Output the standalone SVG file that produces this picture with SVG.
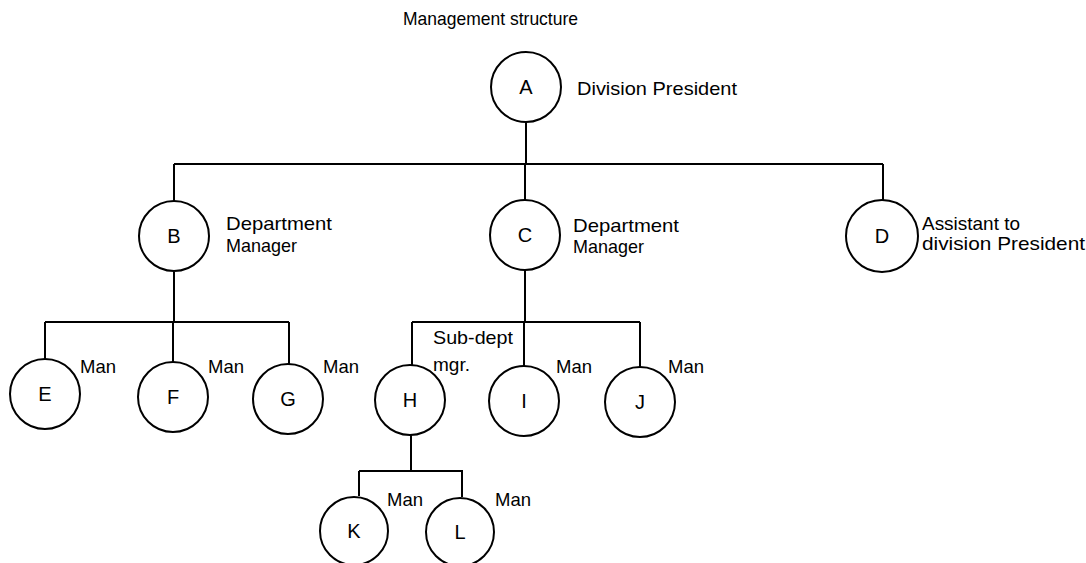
<svg xmlns="http://www.w3.org/2000/svg" width="1086" height="563" viewBox="0 0 1086 563">
  <style>
    .node circle { fill: #fff; stroke: #000; stroke-width: 2; }
    .id { font-family: "Liberation Sans", Arial, sans-serif; font-size: 20px; text-anchor: middle; fill: #000; }
    .lbl { font-family: "Liberation Sans", Arial, sans-serif; font-size: 19px; fill: #000; }
    #connectors path { fill: none; stroke: #000; stroke-width: 2; }
  </style>
  <rect width="1086" height="563" fill="#fff"/>

  <text class="lbl" x="403" y="25" textLength="175" lengthAdjust="spacingAndGlyphs">Management structure</text>

  <g id="connectors">
    <!-- A to first level -->
    <path d="M526 122 V164 M174 164 H883 M174 164 V202 M525 164 V200 M883 164 V200"/>
    <!-- B to E, F, G -->
    <path d="M174 272 V322 M45 322 H289 M45 322 V359 M173 322 V362 M289 322 V364"/>
    <!-- C to H, I, J -->
    <path d="M525 270 V322 M412 322 H640 M412 322 V366 M524 322 V366 M640 322 V367"/>
    <!-- H to K, L -->
    <path d="M411 435 V471 M359 471 H463 M359 471 V496 M462 471 V497"/>
  </g>

  <g id="node-A" class="node">
    <circle cx="526" cy="87" r="35"/>
    <text class="id" x="526" y="94">A</text>
    <text class="lbl" x="577" y="95" textLength="160" lengthAdjust="spacingAndGlyphs">Division President</text>
  </g>
  <g id="node-B" class="node">
    <circle cx="174" cy="236" r="35"/>
    <text class="id" x="174" y="243">B</text>
    <text class="lbl" x="226" y="230" textLength="106" lengthAdjust="spacingAndGlyphs">Department</text>
    <text class="lbl" x="226" y="252" textLength="71" lengthAdjust="spacingAndGlyphs">Manager</text>
  </g>
  <g id="node-C" class="node">
    <circle cx="525" cy="235" r="35"/>
    <text class="id" x="525" y="242">C</text>
    <text class="lbl" x="573" y="232" textLength="106" lengthAdjust="spacingAndGlyphs">Department</text>
    <text class="lbl" x="573" y="253" textLength="71" lengthAdjust="spacingAndGlyphs">Manager</text>
  </g>
  <g id="node-D" class="node">
    <circle cx="882" cy="236" r="36"/>
    <text class="id" x="882" y="243">D</text>
    <text class="lbl" x="922" y="230" textLength="98" lengthAdjust="spacingAndGlyphs">Assistant to</text>
    <text class="lbl" x="922" y="250" textLength="163" lengthAdjust="spacingAndGlyphs">division President</text>
  </g>
  <g id="node-E" class="node">
    <circle cx="45" cy="394" r="35"/>
    <text class="id" x="45" y="401">E</text>
    <text class="lbl" x="80" y="373" textLength="36" lengthAdjust="spacingAndGlyphs">Man</text>
  </g>
  <g id="node-F" class="node">
    <circle cx="173" cy="397" r="35"/>
    <text class="id" x="173" y="404">F</text>
    <text class="lbl" x="208" y="373" textLength="36" lengthAdjust="spacingAndGlyphs">Man</text>
  </g>
  <g id="node-G" class="node">
    <circle cx="288" cy="399" r="35"/>
    <text class="id" x="288" y="406">G</text>
    <text class="lbl" x="323" y="373" textLength="36" lengthAdjust="spacingAndGlyphs">Man</text>
  </g>
  <g id="node-H" class="node">
    <circle cx="410" cy="400" r="35"/>
    <text class="id" x="410" y="407">H</text>
    <text class="lbl" x="433" y="344" textLength="80" lengthAdjust="spacingAndGlyphs">Sub-dept</text>
    <text class="lbl" x="433" y="371" textLength="37" lengthAdjust="spacingAndGlyphs">mgr.</text>
  </g>
  <g id="node-I" class="node">
    <circle cx="524" cy="401" r="35"/>
    <text class="id" x="524" y="408">I</text>
    <text class="lbl" x="556" y="373" textLength="36" lengthAdjust="spacingAndGlyphs">Man</text>
  </g>
  <g id="node-J" class="node">
    <circle cx="640" cy="402" r="35"/>
    <text class="id" x="640" y="409">J</text>
    <text class="lbl" x="668" y="373" textLength="36" lengthAdjust="spacingAndGlyphs">Man</text>
  </g>
  <g id="node-K" class="node">
    <circle cx="354" cy="531" r="34"/>
    <text class="id" x="354" y="538">K</text>
    <text class="lbl" x="387" y="506" textLength="36" lengthAdjust="spacingAndGlyphs">Man</text>
  </g>
  <g id="node-L" class="node">
    <circle cx="460" cy="532" r="34"/>
    <text class="id" x="460" y="539">L</text>
    <text class="lbl" x="495" y="506" textLength="36" lengthAdjust="spacingAndGlyphs">Man</text>
  </g>
</svg>
